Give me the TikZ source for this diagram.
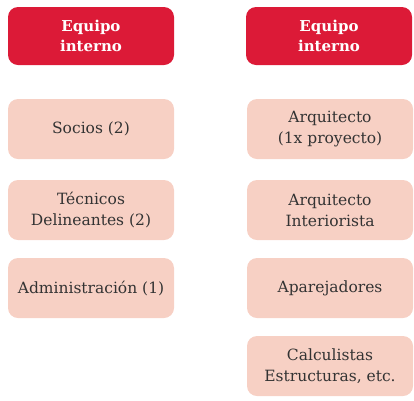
\documentclass[tikz,border=0pt]{standalone}
\usepackage{fontspec}
\setmainfont{DejaVu Serif}
\usepackage{tikz}
\definecolor{rojo}{HTML}{DC1A37}
\definecolor{rosa}{HTML}{F7D0C4}
\definecolor{tinta}{HTML}{333333}

\begin{document}
\begin{tikzpicture}[x=1pt,y=-1pt,
  caja/.style={fill=rosa,rounded corners=10pt,minimum width=166pt,
    minimum height=60pt,align=center,inner sep=0pt,text=tinta,
    font=\fontsize{15.5}{21}\selectfont},
  cabecera/.style={caja,fill=rojo,text=white,minimum height=58pt,
    font=\fontsize{15}{20}\selectfont\bfseries}]
\useasboundingbox (0,0) rectangle (414,400);
% cabeceras
\node[cabecera] (izq) at (91,36) {Equipo\\interno};
\node[cabecera] (der) at (329,36) {Equipo\\interno};
% columna izquierda
\node[caja] (socios) at (91,129) {Socios (2)};
\node[caja] (tecnicos) at (91,210) {T\'ecnicos\\Delineantes (2)};
\node[caja] (admin) at (91,288) {Administraci\'on (1)};
% columna derecha
\node[caja] (arq) at (330,129) {Arquitecto\\(1x proyecto)};
\node[caja] (interior) at (330,210) {Arquitecto\\Interiorista};
\node[caja] (apar) at (330,288) {Aparejadores};
\node[caja] (calc) at (330,366) {Calculistas\\Estructuras, etc.};
\end{tikzpicture}
\end{document}
